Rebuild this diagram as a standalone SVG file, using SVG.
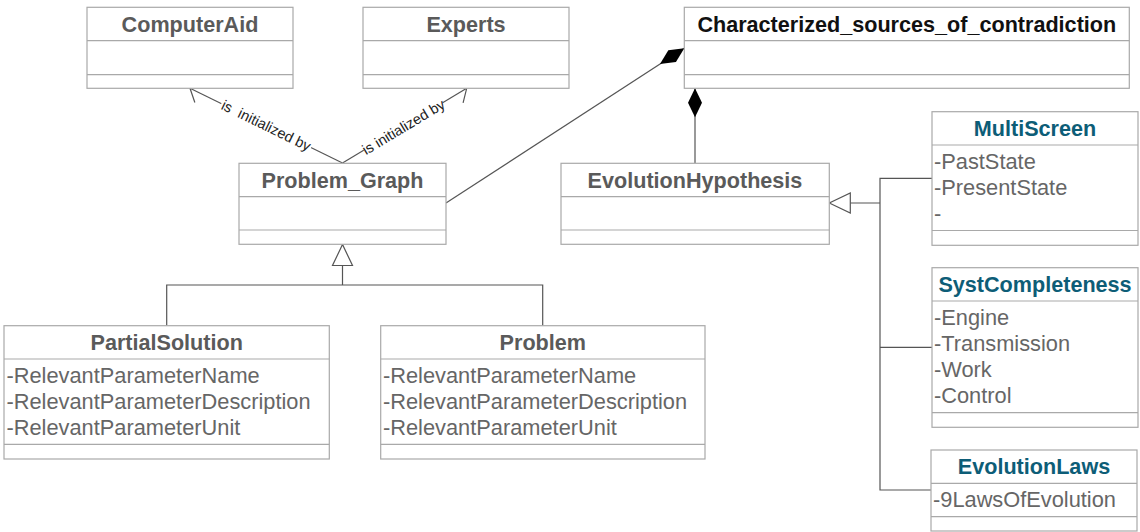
<svg xmlns="http://www.w3.org/2000/svg" width="1140" height="532" viewBox="0 0 1140 532">
<style>
.box{fill:#fff;stroke:#a9a9a9;stroke-width:1.2}
.div{stroke:#a9a9a9;stroke-width:1.2;fill:none}
.hd{font-family:"Liberation Sans",Arial,sans-serif;font-weight:bold;font-size:21.6px;fill:#5a5a5a;text-anchor:middle}
.hd.blk{fill:#111}
.hd.teal{fill:#0d5d77}
.at{font-family:"Liberation Sans",Arial,sans-serif;font-size:21.8px;fill:#666}
.con{fill:none;stroke:#555;stroke-width:1.2}
.lbl{font-family:"Liberation Sans",Arial,sans-serif;font-size:14.5px;fill:#222;text-anchor:middle;dominant-baseline:central}
</style>
<defs>
<marker id="open" markerUnits="userSpaceOnUse" viewBox="-13 -13 15 26" markerWidth="15" markerHeight="26" refX="0" refY="0" orient="auto" overflow="visible">
<path d="M -10.6 -10.6 L 0 0 L -10.6 10.6" fill="none" stroke="#555" stroke-width="1.2"/>
</marker>
<marker id="diamond" markerUnits="userSpaceOnUse" viewBox="-30 -8 31 16" markerWidth="31" markerHeight="16" refX="0" refY="0" orient="auto" overflow="visible">
<path d="M 0 0 L -14.5 -7 L -29 0 L -14.5 7 Z" fill="#000"/>
</marker>
<marker id="tri" markerUnits="userSpaceOnUse" viewBox="-22 -11 23 22" markerWidth="23" markerHeight="22" refX="0" refY="0" orient="auto" overflow="visible">
<path d="M 0 0 L -21 -10 L -21 10 Z" fill="#fff" stroke="#555" stroke-width="1.2"/>
</marker>
</defs>

<g id="connectors">
<path class="con" d="M 342.5 163 L 190 88.3" marker-end="url(#open)"/>
<path class="con" d="M 342.5 163 L 466.7 88.3" marker-end="url(#open)"/>
<g transform="translate(266.2 125.6) rotate(26.1)">
<rect x="-50" y="-7" width="100" height="14" fill="#fff"/>
<text class="lbl" x="0" y="0">is&#160; initialized by</text>
</g>
<g transform="translate(403.5 127) rotate(-31)">
<rect x="-46" y="-7" width="92" height="14" fill="#fff"/>
<text class="lbl" x="0" y="0">is initialized by</text>
</g>
<path class="con" d="M 446 203 L 684.3 48.3" marker-end="url(#diamond)"/>
<path class="con" d="M 695 163.3 L 695 88.3" marker-end="url(#diamond)"/>
<path class="con" d="M 166.7 325.7 V 285 H 542.7 V 325.7"/>
<path class="con" d="M 342.5 285 V 244.5" marker-end="url(#tri)"/>
<path class="con" d="M 932 178.3 H 880 V 490 H 931"/>
<path class="con" d="M 880 347.3 H 932"/>
<path class="con" d="M 880 203 H 829.3" marker-end="url(#tri)"/>
</g>

<g id="ComputerAid">
<rect class="box" x="87" y="7.3" width="206" height="81"/>
<path class="div" d="M 87 40.7 H 293 M 87 74.7 H 293"/>
<text class="hd" x="190" y="31.5">ComputerAid</text>
</g>

<g id="Experts">
<rect class="box" x="363" y="7.3" width="206" height="81"/>
<path class="div" d="M 363 40.7 H 569 M 363 74.7 H 569"/>
<text class="hd" x="466" y="31.5">Experts</text>
</g>

<g id="Characterized_sources_of_contradiction">
<rect class="box" x="684.3" y="7.3" width="445" height="81"/>
<path class="div" d="M 684.3 40.7 H 1129.3 M 684.3 74.7 H 1129.3"/>
<text class="hd blk" x="906.8" y="31.5">Characterized_sources_of_contradiction</text>
</g>

<g id="Problem_Graph">
<rect class="box" x="239" y="163.3" width="207" height="81"/>
<path class="div" d="M 239 196.7 H 446 M 239 230 H 446"/>
<text class="hd" x="342.5" y="187.7">Problem_Graph</text>
</g>

<g id="EvolutionHypothesis">
<rect class="box" x="561" y="163.3" width="268.3" height="81"/>
<path class="div" d="M 561 196.7 H 829.3 M 561 230 H 829.3"/>
<text class="hd" x="695" y="187.7">EvolutionHypothesis</text>
</g>

<g id="MultiScreen">
<rect class="box" x="932" y="111.7" width="206" height="133.6"/>
<path class="div" d="M 932 145 H 1138 M 932 230.5 H 1138"/>
<text class="hd teal" x="1035" y="136">MultiScreen</text>
<text class="at" x="934" y="169.3">-PastState</text>
<text class="at" x="934" y="195.3">-PresentState</text>
<text class="at" x="934" y="221.3">-</text>
</g>

<g id="SystCompleteness">
<rect class="box" x="932" y="267.7" width="206" height="159.6"/>
<path class="div" d="M 932 301 H 1138 M 932 412.7 H 1138"/>
<text class="hd teal" x="1035" y="291.7">SystCompleteness</text>
<text class="at" x="934" y="325">-Engine</text>
<text class="at" x="934" y="351">-Transmission</text>
<text class="at" x="934" y="377">-Work</text>
<text class="at" x="934" y="403">-Control</text>
</g>

<g id="EvolutionLaws">
<rect class="box" x="931" y="450" width="206" height="81"/>
<path class="div" d="M 931 483.3 H 1137 M 931 516.7 H 1137"/>
<text class="hd teal" x="1034" y="474">EvolutionLaws</text>
<text class="at" x="933" y="507.3">-9LawsOfEvolution</text>
</g>

<g id="PartialSolution">
<rect class="box" x="4" y="325.7" width="325.3" height="133.3"/>
<path class="div" d="M 4 359 H 329.3 M 4 444.3 H 329.3"/>
<text class="hd" x="166.7" y="349.5">PartialSolution</text>
<text class="at" x="6.5" y="383.3">-RelevantParameterName</text>
<text class="at" x="6.5" y="409.3">-RelevantParameterDescription</text>
<text class="at" x="6.5" y="435.3">-RelevantParameterUnit</text>
</g>

<g id="Problem">
<rect class="box" x="380.7" y="325.7" width="324.3" height="133.3"/>
<path class="div" d="M 380.7 359 H 705 M 380.7 444.3 H 705"/>
<text class="hd" x="542.8" y="349.5">Problem</text>
<text class="at" x="383" y="383.3">-RelevantParameterName</text>
<text class="at" x="383" y="409.3">-RelevantParameterDescription</text>
<text class="at" x="383" y="435.3">-RelevantParameterUnit</text>
</g>
</svg>
